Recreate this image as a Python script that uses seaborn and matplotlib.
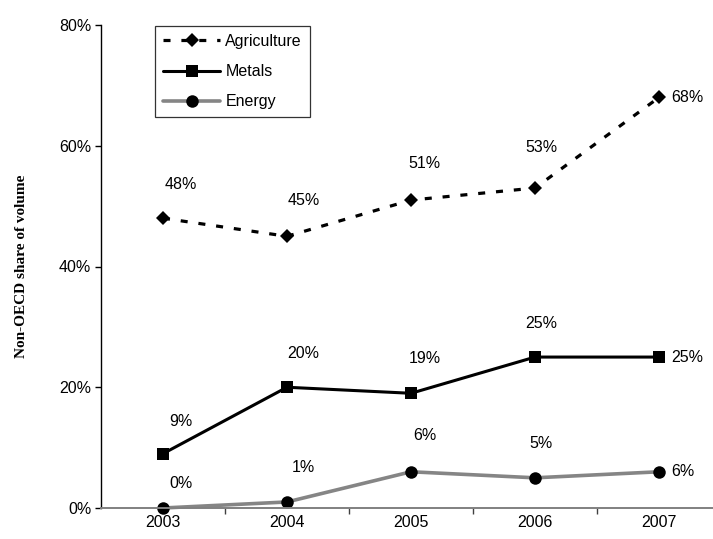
import matplotlib
matplotlib.use("Agg")
import matplotlib.pyplot as plt
from matplotlib.ticker import FixedLocator, PercentFormatter
import numpy as np
import pandas as pd
import seaborn as sns

years = ["2003", "2004", "2005", "2006", "2007"]
agriculture = [48, 45, 51, 53, 68]
metals = [9, 20, 19, 25, 25]
energy = [0, 1, 6, 5, 6]

sns.set_theme(style="white")
plt.rcParams["font.family"] = ["Liberation Sans", "DejaVu Sans"]
FS = 11.5

fig = plt.figure(figsize=(7.13, 5.39), dpi=100)
ax = fig.add_axes([101 / 713, 31 / 539, 612 / 713, 483 / 539])

pos = np.arange(len(years))
series = [
    ("Agriculture", agriculture, dict(color="black", lw=2.3, marker="D", ms=6.8,
                                      dashes=(2.2, 3.4))),
    ("Metals", metals, dict(color="black", lw=2.2, marker="s", ms=8.7)),
    ("Energy", energy, dict(color="#858585", lw=2.6, marker="o", ms=9.0)),
]

# label offsets (points) for the inner points of each line, by column
label_dx = [13, 12, 10, 4.5]
label_dy = {"Agriculture": [24, 26, 26, 29], "Metals": [23, 24.5, 25, 24.5],
            "Energy": [18, 24.5, 26, 25]}

for name, vals, style in series:
    df = pd.DataFrame({"pos": pos, "share": np.array(vals) / 100})
    kw = dict(style)
    dashes = kw.pop("dashes", None)
    sns.lineplot(data=df, x="pos", y="share", ax=ax, label=name,
                 color=kw["color"], linewidth=kw["lw"], marker=kw["marker"],
                 markersize=kw["ms"], markerfacecolor="black",
                 markeredgecolor="black", markeredgewidth=0)
    line = ax.lines[-1]
    if dashes is not None:
        line.set_dashes(dashes)
    line.set_clip_on(False)

    for i, v in enumerate(vals):
        if i == len(vals) - 1:
            ax.annotate(f"{v}%", (pos[i], v / 100), xytext=(9, 0),
                        textcoords="offset points", ha="left", va="center",
                        fontsize=FS, color="black")
        else:
            ax.annotate(f"{v}%", (pos[i], v / 100),
                        xytext=(label_dx[i], label_dy[name][i]),
                        textcoords="offset points", ha="center", va="center",
                        fontsize=FS, color="black")

ax.set_xlim(-0.5, -0.5 + 612 / 124)
ax.set_ylim(0, 0.8)
ax.set_xticks(pos)
ax.set_xticklabels(years)
ax.xaxis.set_minor_locator(FixedLocator(np.arange(0.5, 4.6, 1.0)))
ax.set_yticks([0, 0.2, 0.4, 0.6, 0.8])
ax.yaxis.set_major_formatter(PercentFormatter(1.0, decimals=0))

ax.tick_params(axis="x", which="major", length=0, pad=5, labelsize=FS,
               labelcolor="black")
ax.tick_params(axis="x", which="minor", bottom=True, length=4, width=1,
               color="#404040", direction="out")
ax.tick_params(axis="y", which="major", left=True, length=4, width=1,
               color="black", direction="out", pad=3, labelsize=FS,
               labelcolor="black")

for side in ("top", "right"):
    ax.spines[side].set_visible(False)
ax.spines["left"].set_color("black")
ax.spines["left"].set_linewidth(1.0)
ax.spines["bottom"].set_color("#808080")
ax.spines["bottom"].set_linewidth(1.4)

ax.set_xlabel("")
ax.set_ylabel("Non-OECD share of volume", family=["Liberation Serif", "DejaVu Serif"],
              fontweight="bold", fontsize=11, color="black")
ax.yaxis.set_label_coords(-73 / 612, 0.5)

leg = ax.legend(loc="upper left", bbox_to_anchor=(54 / 612, 1 - 1 / 483),
                frameon=True, fancybox=False, shadow=False, fontsize=FS,
                handlelength=3.6, handletextpad=0.3, borderpad=0.5,
                labelspacing=0.95, borderaxespad=0)
leg.get_frame().set_edgecolor("black")
leg.get_frame().set_linewidth(0.9)
for t in leg.get_texts():
    t.set_color("black")

fig.savefig("out.png", dpi=100, facecolor="white")
